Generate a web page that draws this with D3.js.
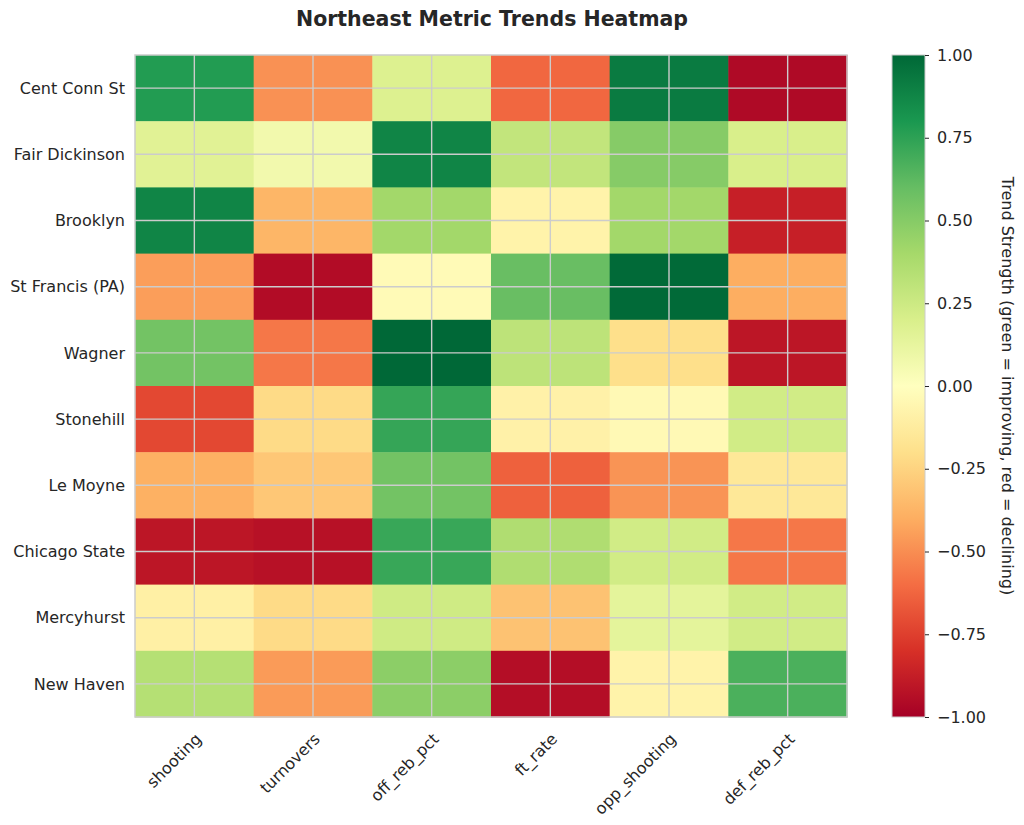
<!DOCTYPE html>
<html>
<head>
<meta charset="utf-8">
<script src="https://cdn.jsdelivr.net/npm/d3@7"></script>
<style>
  body { margin: 0; background: #fff; }
  text { font-family: "DejaVu Sans", sans-serif; fill: #262626; }
</style>
</head>
<body>
<div class="heatmap"></div>
<script>
// teams down the side, metrics along the bottom
var teams = ["Cent Conn St", "Fair Dickinson", "Brooklyn", "St Francis (PA)", "Wagner",
             "Stonehill", "Le Moyne", "Chicago State", "Mercyhurst", "New Haven"];
var metrics = ["shooting", "turnovers", "off_reb_pct", "ft_rate", "opp_shooting", "def_reb_pct"];

// one row per team, same order as metrics
var shooting     = [0.78, 0.16, 0.88, -0.45, 0.56, -0.72, -0.39, -0.91, -0.10, 0.34];
var turnovers    = [-0.49, 0.07, -0.37, -0.95, -0.57, -0.22, -0.30, -0.93, -0.22, -0.46];
var off_reb_pct  = [0.18, 0.88, 0.41, -0.03, 1.00, 0.73, 0.56, 0.72, 0.24, 0.48];
var ft_rate      = [-0.62, 0.29, -0.08, 0.59, 0.31, -0.09, -0.64, 0.36, -0.32, -0.94];
var opp_shooting = [0.92, 0.50, 0.41, 0.99, -0.20, -0.04, -0.48, 0.23, 0.14, -0.08];
var def_reb_pct  = [-0.96, 0.20, -0.87, -0.40, -0.91, 0.23, -0.15, -0.57, 0.23, 0.67];

var cbTicks = [-1, -0.75, -0.5, -0.25, 0, 0.25, 0.5, 0.75, 1];

var columns = [shooting, turnovers, off_reb_pct, ft_rate, opp_shooting, def_reb_pct];
var cells = [];
teams.forEach(function(t, i) {
  metrics.forEach(function(m, j) {
    cells.push({team: t, metric: m, value: columns[j][i]});
  });
});

WIDTH = 1024
HEIGHT = 825
LEFT = 135
TOP = 55
RIGHT = 847
BOTTOM = 717
GRID = "#cccccc"
FONT = "16px"

// matplotlib RdYlGn, linear between the brewer stops
var rdylgn = ["#a50026", "#d73027", "#f46d43", "#fdae61", "#fee08b", "#ffffbf",
              "#d9ef8b", "#a6d96a", "#66bd63", "#1a9850", "#006837"];
var color = d3.scaleLinear()
    .domain(rdylgn.map(function(c, i) { return -1 + 2 * i / (rdylgn.length - 1); }))
    .range(rdylgn)
    .interpolate(d3.interpolateRgb)
    .clamp(true);

var svg = d3.select(".heatmap").append("svg")
    .attr("width", WIDTH)
    .attr("height", HEIGHT);

var x = d3.scaleBand().domain(metrics).range([LEFT, RIGHT]);
var y = d3.scaleBand().domain(teams).range([TOP, BOTTOM]);

svg.append("g").selectAll("rect")
    .data(cells)
    .enter().append("rect")
    .attr("x", function(d) { return x(d.metric); })
    .attr("y", function(d) { return y(d.team); })
    .attr("width", x.bandwidth() + 0.5)
    .attr("height", y.bandwidth() + 0.5)
    .attr("fill", function(d) { return color(d.value); });

// grid sits on the cell centres (imshow ticks)
var grid = svg.append("g");
metrics.forEach(function(m) {
  var cx = x(m) + x.bandwidth() / 2;
  grid.append("line")
      .attr("x1", cx).attr("x2", cx)
      .attr("y1", TOP).attr("y2", BOTTOM)
      .style("stroke", GRID).style("stroke-width", 1.4);
});
teams.forEach(function(t) {
  var cy = y(t) + y.bandwidth() / 2;
  grid.append("line")
      .attr("x1", LEFT).attr("x2", RIGHT)
      .attr("y1", cy).attr("y2", cy)
      .style("stroke", GRID).style("stroke-width", 1.4);
});

svg.append("rect")
    .attr("x", LEFT).attr("y", TOP)
    .attr("width", RIGHT - LEFT).attr("height", BOTTOM - TOP)
    .style("fill", "none").style("stroke", GRID).style("stroke-width", 1.5);

// y labels
svg.append("g").selectAll("text")
    .data(teams)
    .enter().append("text")
    .attr("x", LEFT - 10)
    .attr("y", function(d) { return y(d) + y.bandwidth() / 2; })
    .attr("dy", "0.35em")
    .attr("text-anchor", "end")
    .style("font-size", FONT)
    .text(function(d) { return d; });

// x labels, rotated 45
svg.append("g").selectAll("text")
    .data(metrics)
    .enter().append("text")
    .attr("transform", function(d) {
      return "translate(" + (x(d) + x.bandwidth() / 2 + 8) + "," + (BOTTOM + 23) + ") rotate(-45)";
    })
    .attr("text-anchor", "end")
    .style("font-size", FONT)
    .text(function(d) { return d; });

// title
svg.append("text")
    .attr("x", 492)
    .attr("y", 26)
    .attr("text-anchor", "middle")
    .style("font-size", "20.5px")
    .style("font-weight", "bold")
    .text("Northeast Metric Trends Heatmap");

// colorbar
var CB_X = 892, CB_W = 33;
var cbScale = d3.scaleLinear().domain([-1, 1]).range([BOTTOM, TOP]);

var defs = svg.append("defs");
var grad = defs.append("linearGradient")
    .attr("id", "cbgrad")
    .attr("x1", 0).attr("y1", 1).attr("x2", 0).attr("y2", 0);
grad.selectAll("stop")
    .data(rdylgn)
    .enter().append("stop")
    .attr("offset", function(d, i) { return i / (rdylgn.length - 1); })
    .attr("stop-color", function(d) { return d; });

svg.append("rect")
    .attr("x", CB_X).attr("y", TOP)
    .attr("width", CB_W).attr("height", BOTTOM - TOP)
    .style("fill", "url(#cbgrad)")
    .style("stroke", GRID).style("stroke-width", 1);

var cbAxis = d3.axisRight(cbScale)
    .tickValues(cbTicks)
    .tickSize(4)
    .tickPadding(8)
    .tickFormat(function(d) { return d3.format(".2f")(d).replace("-", "\u2212"); });

var cbG = svg.append("g")
    .attr("transform", "translate(" + (CB_X + CB_W) + ",0)")
    .call(cbAxis);
cbG.select(".domain").remove();
cbG.selectAll("line").style("stroke", "#262626").style("stroke-width", 1);
cbG.selectAll("text")
    .style("font-size", FONT)
    .style("font-family", "DejaVu Sans, sans-serif")
    .style("fill", "#262626");

svg.append("text")
    .attr("transform", "translate(1002," + ((TOP + BOTTOM) / 2) + ") rotate(90)")
    .attr("text-anchor", "middle")
    .style("font-size", FONT)
    .text("Trend Strength (green = improving, red = declining)");
</script>
</body>
</html>
